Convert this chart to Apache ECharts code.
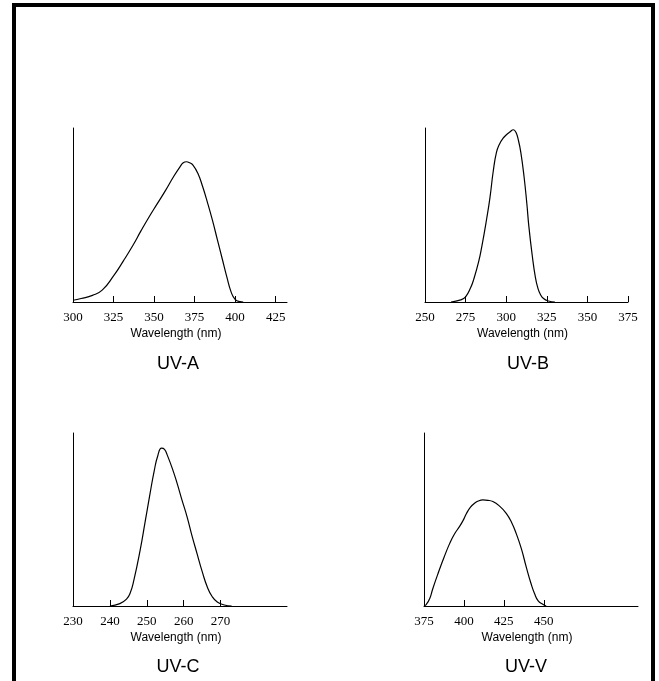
<!DOCTYPE html>
<html>
<head>
<meta charset="utf-8">
<script src="https://cdn.jsdelivr.net/npm/echarts@6/dist/echarts.min.js"></script>
<style>
html,body{margin:0;padding:0;background:#fff;}
#chart{width:659px;height:681px;}
</style>
</head>
<body>
<div id="chart"></div>
<script>
// ---- Data (relative intensity vs wavelength in nm) ----
const uvaWave = [300,305,312,318,325,331,337,342,347,352,357,362,366,368,370,372,374,377,380,383,386,389,392,395,397.5,400,403,405];
const uvaVal  = [0.01,0.02,0.038,0.068,0.15,0.235,0.326,0.41,0.49,0.565,0.64,0.72,0.777,0.80,0.806,0.80,0.787,0.74,0.662,0.57,0.47,0.36,0.25,0.14,0.058,0.015,0.002,0];

const uvbWave = [266,272,275,278,280,283,285,288,290,292,294,296,298,300,302,304.5,306,307.5,309,311,312.7,314,316,318,319.5,321,323,326,330];
const uvbVal  = [0,0.012,0.03,0.08,0.13,0.23,0.32,0.48,0.60,0.75,0.86,0.91,0.94,0.96,0.975,0.99,0.975,0.93,0.86,0.72,0.566,0.43,0.27,0.14,0.08,0.045,0.02,0.006,0];

const uvcWave = [240,242.7,244.5,245.5,246.5,248.2,249.5,250.9,252,253,254,254.8,255.5,257,258.2,259.5,260.9,262.2,263.6,265,266.4,267.7,269.1,271,273];
const uvcVal  = [0,0.014,0.04,0.075,0.15,0.323,0.48,0.652,0.78,0.87,0.912,0.905,0.875,0.79,0.71,0.615,0.517,0.41,0.304,0.2,0.11,0.055,0.023,0.006,0];

const uvvWave = [375,376.5,378.6,380.5,383.8,387.5,391.1,394,397.3,399.5,401.5,404,406.7,409,411.9,415,418.1,422,426.5,430,432.7,436,439,442,444.2,446.5,449.4,451.5];
const uvvVal  = [0,0.01,0.043,0.1,0.188,0.28,0.362,0.415,0.46,0.495,0.533,0.57,0.594,0.607,0.613,0.611,0.604,0.58,0.536,0.48,0.42,0.33,0.226,0.13,0.072,0.03,0.01,0];

const uvaTicks = [300,325,350,375,400,425];
const uvbTicks = [250,275,300,325,350,375];
const uvcTicks = [230,240,250,260,270];
const uvvTicks = [375,400,425,450];

const panelTitles = ['UV-A','UV-B','UV-C','UV-V'];
const axisTitle = 'Wavelength (nm)';

function zip(xs, ys){ return xs.map((x,i)=>[x, ys[i]]); }

const grids = [
  {left:73, top:128, width:214, height:174},
  {left:425, top:128, width:203, height:174},
  {left:73, top:433, width:214, height:173},
  {left:424, top:433, width:214, height:173}
].map(g => Object.assign({outerBoundsMode:'none', containLabel:false}, g));

const ranges = [[300,432],[250,375],[230,288],[375,509]];
const tickSets = [uvaTicks, uvbTicks, uvcTicks, uvvTicks];

const xAxes = ranges.map((r,i)=>({
  type:'value', gridIndex:i, min:r[0], max:r[1],
  axisLine:{show:true, onZero:false, lineStyle:{color:'#000', width:1}},
  axisTick:{show:true, inside:true, length:6, customValues:tickSets[i], lineStyle:{color:'#000', width:1}},
  axisLabel:{show:true, customValues:tickSets[i], margin:9, color:'#000',
             fontFamily:'Liberation Serif', fontSize:13},
  splitLine:{show:false},
  name:axisTitle, nameLocation:'middle', nameGap:26,
  nameTextStyle:{color:'#000', fontFamily:'Liberation Sans', fontSize:12, padding:[0,8,0,0]}
}));

const yAxes = ranges.map((r,i)=>({
  type:'value', gridIndex:i, min:0, max:1,
  axisLine:{show:true, lineStyle:{color:'#000', width:1}},
  axisTick:{show:false}, axisLabel:{show:false}, splitLine:{show:false}
}));

const seriesData = [zip(uvaWave,uvaVal), zip(uvbWave,uvbVal), zip(uvcWave,uvcVal), zip(uvvWave,uvvVal)];
const series = seriesData.map((d,i)=>({
  type:'line', xAxisIndex:i, yAxisIndex:i, data:d, smooth:0.5,
  showSymbol:false, symbol:'none', silent:true,
  lineStyle:{color:'#000', width:1.2}
}));

const titlePos = [[178,364],[528,364],[178,667],[526,667]];
const graphics = titlePos.map((p,i)=>({
  type:'text', x:p[0], y:p[1],
  style:{text:panelTitles[i], align:'center', verticalAlign:'middle',
         font:'18px "Liberation Sans"', fill:'#000'}
}));
graphics.push({
  type:'rect', shape:{x:14, y:5, width:639, height:720},
  style:{fill:'none', stroke:'#000', lineWidth:4}, silent:true
});

const chart = echarts.init(document.getElementById('chart'), null, {renderer:'canvas'});
chart.setOption({
  animation:false,
  backgroundColor:'#fff',
  grid:grids, xAxis:xAxes, yAxis:yAxes, series:series, graphic:graphics
});
</script>
</body>
</html>
